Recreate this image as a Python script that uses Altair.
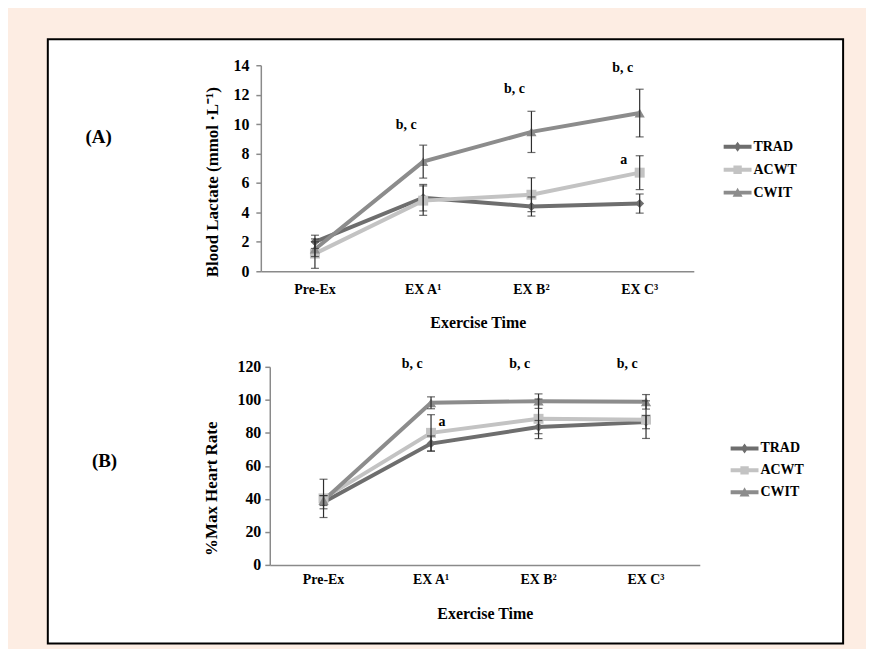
import altair as alt
import pandas as pd

times = ["Pre-Ex", "EX A¹", "EX B²", "EX C³"]
groups = ["TRAD", "ACWT", "CWIT"]

# Panel A: blood lactate, mean and SD per group
lac_trad = [2.0, 5.0, 4.4, 4.6]
lac_acwt = [1.2, 4.8, 5.2, 6.7]
lac_cwit = [1.5, 7.45, 9.47, 10.75]
lac_trad_sd = [0.45, 0.9, 0.65, 0.65]
lac_acwt_sd = [1.0, 1.0, 1.15, 1.15]
lac_cwit_sd = [0.5, 1.12, 1.4, 1.62]
lac_ticks = [0, 2, 4, 6, 8, 10, 12, 14]

# Panel B: % max heart rate, mean and SD per group
hr_trad = [38.0, 73.5, 83.5, 86.5]
hr_acwt = [40.3, 80.0, 88.5, 88.0]
hr_cwit = [39.0, 98.2, 99.2, 98.8]
hr_trad_sd = [4.0, 4.6, 4.0, 4.0]
hr_acwt_sd = [11.6, 11.0, 12.0, 11.4]
hr_cwit_sd = [3.0, 3.6, 4.4, 4.4]
hr_ticks = [0, 20, 40, 60, 80, 100, 120]

# significance annotations
lac_bc_time = ["EX A¹", "EX B²", "EX C³"]
lac_bc_value = [9.95, 12.35, 13.8]
lac_a_time = ["EX C³"]
lac_a_value = [7.55]
hr_bc_time = ["EX A¹", "EX B²", "EX C³"]
hr_bc_value = [121.6, 121.6, 121.6]
hr_a_time = ["EX A¹"]
hr_a_value = [86.7]

FONT = "Liberation Serif"
GRAY = "#8a8a8a"
ERR = "#2e2e2e"
PEACH = "#fdede3"
colors = ["#6e6e6e", "#c3c3c3", "#8c8c8c"]
point_shapes = ["diamond", "square", "triangle-up"]
point_sizes = [80, 100, 105]
bar = "M-1.4,-0.2L1.4,-0.2L1.4,0.2L-1.4,0.2Z"
legend_paths = [
    bar + "M0,-0.5L0.36,0L0,0.5L-0.36,0Z",
    bar + "M-0.42,-0.42L0.42,-0.42L0.42,0.42L-0.42,0.42Z",
    bar + "M0,-0.5L0.5,0.42L-0.5,0.42Z",
]


def long_df(means, sds):
    rows = []
    for g, m, s in zip(groups, means, sds):
        for i, (t, mv, sv) in enumerate(zip(times, m, s)):
            rows.append(dict(time=t, idx=i, group=g, mean=mv, lo=mv - sv, hi=mv + sv))
    return pd.DataFrame(rows)


def one():
    return pd.DataFrame({"k": [0]})


def panel(df, bc_t, bc_v, a_t, a_v, a_dx, bc_dx, ydom, yticks, ytitle, width, height,
          xrange, yoffset, ylabpad, ytitle_x, ytitle_y, xlabpad, xtitle_x, xtitle_y,
          leg_x, leg_y, leg_row, tag, tag_x, tag_y, box=False):
    xscale = alt.Scale(domain=times, range=xrange) if xrange else alt.Scale(domain=times)
    xaxis = alt.Axis(title="Exercise Time", labelAngle=0, ticks=False, tickSize=0, grid=False,
                     domainColor=GRAY, domainWidth=1.5, labelFont=FONT, labelFontSize=14,
                     labelFontWeight="bold", labelColor="black", labelPadding=xlabpad,
                     titleFont=FONT, titleFontSize=16, titleFontWeight="bold", titleColor="black",
                     titleX=xtitle_x, titleY=xtitle_y, titleBaseline="middle", zindex=1)
    yaxis = alt.Axis(values=yticks, title=ytitle, grid=False, domainColor=GRAY, domainWidth=1.5,
                     tickColor=GRAY, tickWidth=1.5, tickSize=5, labelFont=FONT, labelFontSize=16,
                     labelFontWeight="bold", labelColor="black", labelPadding=ylabpad,
                     titleFont=FONT, titleFontSize=17, titleFontWeight="bold", titleColor="black",
                     titleX=ytitle_x, titleY=ytitle_y, titleBaseline="middle", offset=yoffset,
                     zindex=1)
    yscale = alt.Scale(domain=ydom, nice=False)
    X = alt.X("time:N", sort=times, scale=xscale, axis=xaxis)

    def Y(f):
        return alt.Y(f"{f}:Q", scale=yscale, axis=yaxis)

    layers = []
    if box:
        layers.append(alt.Chart(one()).mark_rect(fill="white", stroke="black", strokeWidth=2).encode(
            x=alt.value(-214), x2=alt.value(585), y=alt.value(-26), y2=alt.value(581)))
    for g, c in zip(groups, colors):
        layers.append(alt.Chart(df).transform_filter(alt.datum.group == g).mark_line(
            strokeWidth=4, color=c).encode(x=X, y=Y("mean"), order=alt.Order("idx:Q")))
    for g, c, s, sz in zip(groups, colors, point_shapes, point_sizes):
        layers.append(alt.Chart(df).transform_filter(alt.datum.group == g).mark_point(
            filled=True, shape=s, size=sz, opacity=1, color=c).encode(x=X, y=Y("mean")))
    layers.append(alt.Chart(df).mark_rule(color=ERR, strokeWidth=1.2).encode(
        x=X, y=Y("lo"), y2="hi"))
    for f in ["lo", "hi"]:
        layers.append(alt.Chart(df).mark_tick(color=ERR, size=8, thickness=1.2).encode(
            x=X, y=Y(f)))
    bc = pd.DataFrame({"time": bc_t, "mean": bc_v, "label": ["b, c"] * len(bc_t)})
    layers.append(alt.Chart(bc).mark_text(font=FONT, fontSize=14, fontWeight="bold", color="black",
                                          dx=bc_dx, baseline="middle").encode(
        x=X, y=Y("mean"), text="label:N"))
    aa = pd.DataFrame({"time": a_t, "mean": a_v, "label": ["a"] * len(a_t)})
    layers.append(alt.Chart(aa).mark_text(font=FONT, fontSize=14, fontWeight="bold", color="black",
                                          dx=a_dx, baseline="middle").encode(
        x=X, y=Y("mean"), text="label:N"))
    layers.append(alt.Chart(one()).mark_text(text=tag, font=FONT, fontSize=19, fontWeight="bold",
                                             color="black", baseline="middle").encode(
        x=alt.value(tag_x), y=alt.value(tag_y)))
    leg = alt.Legend(title=None, orient="none", legendX=leg_x, legendY=leg_y, symbolSize=400,
                     labelFont=FONT, labelFontSize=14, labelFontWeight="bold", labelColor="black",
                     labelOffset=6, rowPadding=leg_row, padding=0, symbolStrokeWidth=0,
                     symbolOpacity=1, zindex=2)
    cscale = alt.Scale(domain=groups, range=colors)
    layers.append(alt.Chart(df).transform_filter("false").mark_point(filled=True, size=400, opacity=1).encode(
        x=X, y=Y("mean"),
        color=alt.Color("group:N", scale=cscale, legend=leg),
        shape=alt.Shape("group:N", scale=alt.Scale(domain=groups, range=legend_paths), legend=leg)))
    return alt.layer(*layers).properties(width=width, height=height)


dfA = long_df([lac_trad, lac_acwt, lac_cwit], [lac_trad_sd, lac_acwt_sd, lac_cwit_sd])
dfB = long_df([hr_trad, hr_acwt, hr_cwit], [hr_trad_sd, hr_acwt_sd, hr_cwit_sd])

A = panel(dfA, lac_bc_time, lac_bc_value, lac_a_time, lac_a_value, -16, -17, [0, 14], lac_ticks,
          "Blood Lactate (mmol ·L⁻¹)", 435, 207, None, 0, 7, -49, 117, 11, 218, 51,
          469, 72, 6, "(A)", -163, 72, box=True)
B = panel(dfB, hr_bc_time, hr_bc_value, hr_a_time, hr_a_value, 11, -19, [0, 120], hr_ticks,
          "%Max Heart Rate", 441, 199, [9, 441], -9, 4, -59, 122, 8, 225, 49,
          476, 72, 5, "(B)", -157, 95)

chart = alt.vconcat(A, B, spacing=96, bounds="flush").resolve_scale(
    color="independent", shape="independent").resolve_legend(
    color="independent", shape="independent").properties(
    padding={"left": 39, "top": 29, "right": 22, "bottom": 3},
    background=PEACH).configure_view(strokeWidth=0)

chart.save("out.html", embed_options={"renderer": "svg", "actions": False})
